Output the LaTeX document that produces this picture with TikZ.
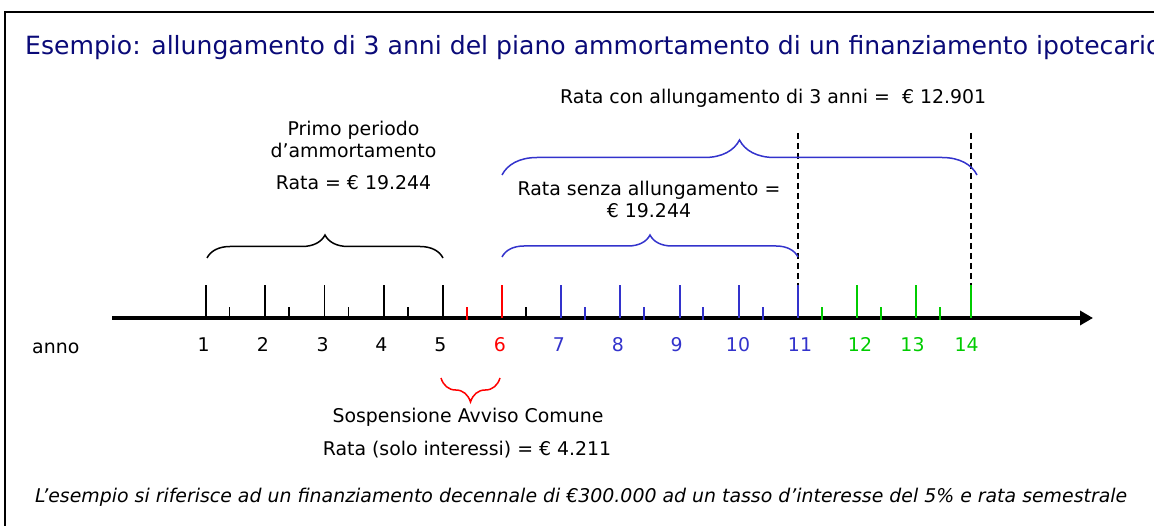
\documentclass[tikz,border=0pt]{standalone}
\usepackage{fontspec}
\setmainfont{DejaVu Sans}
\usetikzlibrary{decorations.pathreplacing,arrows.meta}
\definecolor{titlecol}{RGB}{10,10,120}
\definecolor{tblue}{RGB}{51,51,204}
\definecolor{tgreen}{RGB}{0,204,0}
\definecolor{tred}{RGB}{255,0,0}
\tikzset{
  lbl/.style={font=\fontsize{18.9}{22}\selectfont, inner sep=0pt},
  numlbl/.style={lbl, anchor=base},
  brc/.style={decorate, decoration={brace, amplitude=#1}, line width=1.5pt},
  tickline/.style={line width=1.7pt},
  guide/.style={line width=1.6pt, dash pattern=on 6pt off 4pt},
}
\begin{document}
\begin{tikzpicture}[x=1pt,y=-1pt]
\useasboundingbox (0,0) rectangle (1154,526);
% frame
\draw[line width=2.6pt] (5,530) -- (5,12) -- (1160,12);
% title
\node[lbl, font=\fontsize{25.1}{30}\selectfont, text=titlecol, anchor=base west] (title) at (25,55)
  {Esempio: allungamento di 3 anni del piano ammortamento di un finanziamento ipotecario};
% top label
\node[lbl, anchor=base west] (ratacon) at (560,104) {Rata con allungamento di 3 anni =\ \ € 12.901};
% first period labels
\node[numlbl] (primo) at (353.5,136) {Primo periodo};
\node[numlbl] (damm) at (353.5,158) {d’ammortamento};
\node[numlbl] (rata1) at (353.5,190) {Rata = € 19.244};
% senza allungamento
\node[numlbl] (senza) at (649,196) {Rata senza allungamento =};
\node[numlbl] (senza2) at (649,218) {€ 19.244};
% sospensione
\node[numlbl] (sosp) at (468,423) {Sospensione Avviso Comune};
\node[numlbl] (rata3) at (467,455) {Rata (solo interessi) = € 4.211};
% footer
\node[lbl, font=\fontsize{18.9}{22}\selectfont\itshape, anchor=base west] (foot) at (35,502)
  {L’esempio si riferisce ad un finanziamento decennale di €300.000 ad un tasso d’interesse del 5\% e rata semestrale};
% axis
\coordinate (axs) at (112,318);
\coordinate (axe) at (1093,318);
\draw[line width=3.5pt, -{Triangle[length=13pt,width=14pt]}] (axs) -- (axe);
\node[lbl, anchor=base west] (anno) at (32,354) {anno};
% long ticks
\foreach \x/\c in {206/black,265/black,324.6/black,384/black,443/black,502/tred,561/tblue,620/tblue,680/tblue,739/tblue,798/tblue,857/tgreen,916/tgreen,971/tgreen}
  \draw[tickline, draw=\c] (\x,318) -- (\x,285);
% short ticks
\foreach \x/\c in {229.6/black,289.3/black,348.6/black,408/black,467/tred,526/black,585/tblue,644/tblue,703/tblue,763/tblue,822/tgreen,881/tgreen,940/tgreen}
  \draw[tickline, draw=\c] (\x,320) -- (\x,307);
% numbers
\foreach \x/\n/\c in {203.6/1/black,263/2/black,322.7/3/black,381.5/4/black,440.4/5/black,500/6/tred,559/7/tblue,618/8/tblue,676.7/9/tblue,738/10/tblue,800/11/tblue,860/12/tgreen,912.5/13/tgreen,966.7/14/tgreen}
  \node[numlbl, text=\c] (n\n) at (\x,352) {\n};
% dashed guides
\coordinate (g11t) at (798,133);
\coordinate (g11b) at (798,285);
\coordinate (g14t) at (971,133);
\coordinate (g14b) at (971,285);
\draw[guide] (g11t) -- (g11b);
\draw[guide] (g14t) -- (g14b);
% braces
\coordinate (b1s) at (207,258);
\coordinate (b1e) at (443,258);
\draw[brc=23] (b1s) -- (b1e);
\coordinate (b2s) at (502,257);
\coordinate (b2e) at (798,257);
\draw[brc=22, draw=tblue] (b2s) -- (b2e);
\coordinate (b3s) at (502,175);
\coordinate (b3e) at (977,175);
\draw[brc=35, draw=tblue] (b3s) -- (b3e);
\coordinate (b4s) at (500,378);
\coordinate (b4e) at (441,378);
\draw[brc=24, draw=tred] (b4s) -- (b4e);
\end{tikzpicture}
\end{document}
